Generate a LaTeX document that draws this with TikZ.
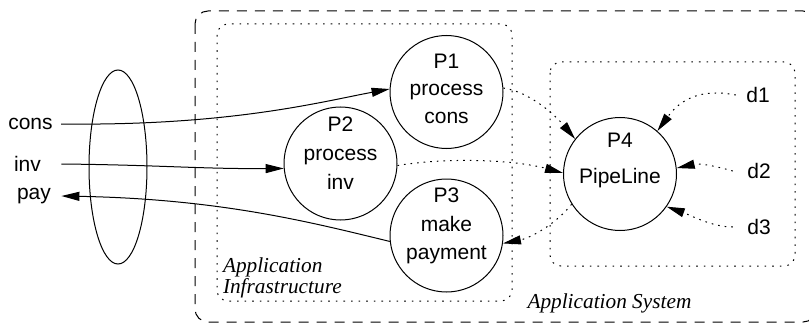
\documentclass[tikz,border=0pt]{standalone}
\usepackage{fontspec}
\setmainfont{Liberation Sans}
\newfontfamily\serifit{Liberation Serif}
\usetikzlibrary{arrows.meta}
\begin{document}
\begin{tikzpicture}[x=1pt,y=-1pt,line width=1pt,
  proc/.style={circle,draw,minimum size=113pt,inner sep=0pt},
  ptext/.style={font=\fontsize{21}{#1}\selectfont,align=center,inner sep=0pt},
  plain/.style={font=\fontsize{21}{25}\selectfont,inner sep=0pt},
  ital/.style={font=\serifit\itshape\fontsize{21.3}{20.5}\selectfont,align=left,inner sep=0pt},
  flow/.style={-{Triangle[length=18pt,width=9pt]}},
  dflow/.style={flow,dash pattern=on 1.6pt off 5pt},
  outerbox/.style={draw,rounded corners=13pt,dash pattern=on 10pt off 8pt},
  innerbox/.style={draw,rounded corners=11pt,dash pattern=on 1.6pt off 6pt}]
\clip (0,0) rectangle (809,329);
% boxes
\draw[outerbox] (195,11) rectangle (816,322);
\draw[innerbox] (217,24) rectangle (512,301);
\draw[innerbox] (550,62) rectangle (795,266);
% interface ellipse
\draw (118,167) ellipse [x radius=29pt, y radius=97pt];
% processes
\node[proc] (P1) at (446.5,92) {};
\node[proc] (P2) at (340.5,163.5) {};
\node[proc] (P3) at (446.5,235.5) {};
\node[proc] (P4) at (620,174) {};
\node[ptext=27.5] (t1) at (446.5,88.5) {P1\\process\\cons};
\node[ptext=29] (t2) at (340.5,153.5) {P2\\process\\inv};
\node[ptext=28.5] (t3) at (446.5,226) {P3\\make\\payment};
\node[ptext=36] (t4) at (620,160) {P4\\PipeLine};
% external labels
\node[plain] (cons) at (30.5,124) {cons};
\node[plain] (inv) at (27.5,164) {inv};
\node[plain] (pay) at (34,196) {pay};
\node[plain] (d1) at (758,95) {d1};
\node[plain] (d2) at (759,171) {d2};
\node[plain] (d3) at (759,227) {d3};
\node[ital,anchor=north west] (ai) at (222.5,257.5) {Application\\Infrastructure};
\node[ital,anchor=base west] (as) at (527,308) {Application System};
% solid flows
\draw[flow] ([xshift=8pt]cons.east) .. controls (230,126) and (320,102) .. (P1.177);
\draw[flow] ([xshift=20pt]inv.east) .. controls (160,165) and (200,169) .. (P2.185);
\draw[flow] (P3.186.5) .. controls (310,222) and (220,199) .. ([xshift=10pt]pay.east);
% dotted flows
\draw[dflow] (P1.4) .. controls (530,92) and (555,115) .. (P4.142);
\draw[dflow] (P2.-2.5) .. controls (450,157) and (515,160) .. (P4.179);
\draw[dflow] (P4.212) .. controls (555,225) and (530,238) .. (P3.-8);
\draw[dflow] ([xshift=-10pt]d1.west) .. controls (700,88) and (680,100) .. (P4.49);
\draw[dflow] ([xshift=-14pt]d2.west) .. controls (715,166) and (700,163) .. (P4.6);
\draw[dflow] ([xshift=-14pt]d3.west) .. controls (712,227) and (690,215) .. (P4.325);
\end{tikzpicture}
\end{document}
